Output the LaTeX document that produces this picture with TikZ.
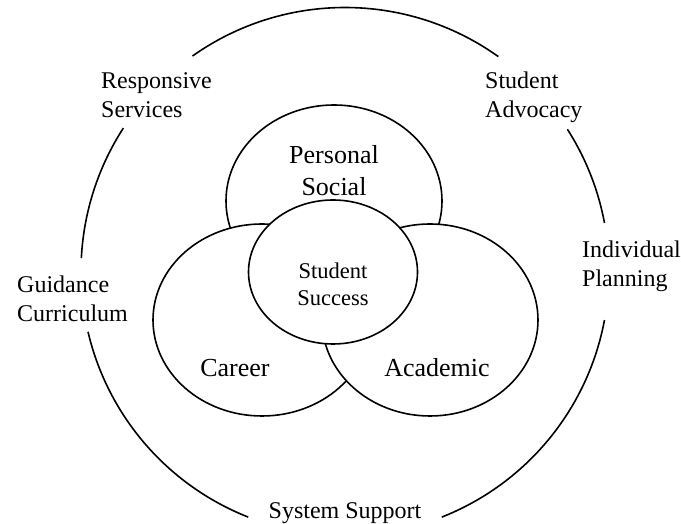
\documentclass[tikz,border=0pt]{standalone}
\usepackage{fontspec}
\setmainfont{Liberation Serif}
\usetikzlibrary{calc}
\tikzset{l/.style={font=\fontsize{24}{29}\selectfont, align=left, inner sep=0pt}}
\tikzset{m/.style={font=\fontsize{26}{32}\selectfont, align=center, inner sep=0pt}}
\tikzset{sm/.style={font=\fontsize{22.5}{27}\selectfont, align=center, inner sep=0pt}}
\tikzset{ring/.style={line width=1.6pt}}

\begin{document}
\begin{tikzpicture}[x=1pt,y=1pt,line join=round]
  \useasboundingbox (0,0) rectangle (681,524);
  \coordinate (O) at (345,252.5);
  % outer ring, broken where the labels sit
  \foreach \a/\b in {54.5/125.3,147.1/177.1,193.2/248.5,291.5/349.4,10.6/32.6}
    \draw[ring] (O) ++(\a:264pt) arc (\a:\b:264pt);
  \node[l, anchor=north west] (RS) at (101,452) {Responsive\\Services};
  \node[l, anchor=north west] (SA) at (485,452) {Student\\Advocacy};
  \node[l, anchor=north west] (GC) at (17,248.4) {Guidance\\Curriculum};
  \node[l, anchor=north west] (IP) at (582,283.4) {Individual\\Planning};
  \node[l, anchor=base] (SY) at (345,5) {System Support};
  % the three areas, the centre on top
  \coordinate (P) at (334,323);
  \coordinate (C) at (262,204);
  \coordinate (A) at (430,204);
  \coordinate (S) at (333,252);
  \draw[ring,fill=white] (P) ellipse [x radius=108pt, y radius=96pt];
  \draw[ring,fill=white] (C) ellipse [x radius=109pt, y radius=96pt];
  \draw[ring,fill=white] (A) ellipse [x radius=108pt, y radius=96pt];
  \draw[ring,fill=white] (S) ellipse [x radius=84.5pt, y radius=72pt];
  \node[m, anchor=north] (PS) at (334,379) {Personal\\Social};
  \node[m, anchor=base] (CA) at (235,147) {Career};
  \node[m, anchor=base] (AC) at (437,147) {Academic};
  \node[sm, anchor=north] (SS) at (333,261.4) {Student\\Success};
\end{tikzpicture}
\end{document}
